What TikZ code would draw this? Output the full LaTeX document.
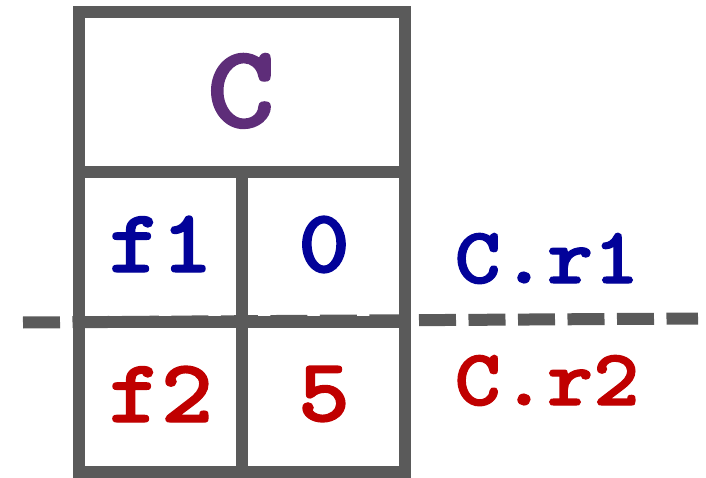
\documentclass[tikz,border=0pt]{standalone}
\usepackage{fontspec}
\newfontfamily\cour{lmmonolt10-bold.otf}[FakeStretch=1.1,FakeBold=1.5]
\definecolor{gridgray}{HTML}{5A5A5A}
\definecolor{cpurple}{HTML}{5E2D79}
\definecolor{cblue}{HTML}{020299}
\definecolor{cred}{HTML}{C00000}
\begin{document}
\begin{tikzpicture}[x=1pt,y=-1pt,
  cell/.style={draw=gridgray, line width=12pt, rectangle, inner sep=0pt},
  txt/.style={anchor=base, inner sep=0pt, font=\cour\fontsize{90}{90}\selectfont},
  lbl/.style={anchor=base, inner sep=0pt, font=\cour\fontsize{80}{80}\selectfont},
  sepline/.style={draw=gridgray, line width=12pt, dash pattern=on 37pt off 12.5pt}]
\useasboundingbox (0,0) rectangle (706,478);
\node[cell, minimum width=326pt, minimum height=160pt] (head) at (242,92) {};
\node[cell, minimum width=163pt, minimum height=150pt] (c11) at (160.5,247) {};
\node[cell, minimum width=163pt, minimum height=150pt] (c12) at (323.5,247) {};
\node[cell, minimum width=163pt, minimum height=150pt] (c21) at (160.5,397) {};
\node[cell, minimum width=163pt, minimum height=150pt] (c22) at (323.5,397) {};
\node[txt, text=cpurple, font=\cour\fontsize{118}{118}\selectfont] (tc) at (241,127) {C};
\node[txt, text=cblue] (tf1) at (161,272) {f1};
\node[txt, text=cblue] (t0) at (324,272) {0};
\node[txt, text=cred] (tf2) at (161,422) {f2};
\node[txt, text=cred] (t5) at (324,421) {5};
\coordinate (dl) at (23,322.5);
\coordinate (dr) at (698,318.5);
\draw[sepline] (dl) -- (dr);
\node[lbl, text=cblue] (r1) at (547,283) {C.r1};
\node[lbl, text=cred] (r2) at (547,405) {C.r2};
\end{tikzpicture}
\end{document}
